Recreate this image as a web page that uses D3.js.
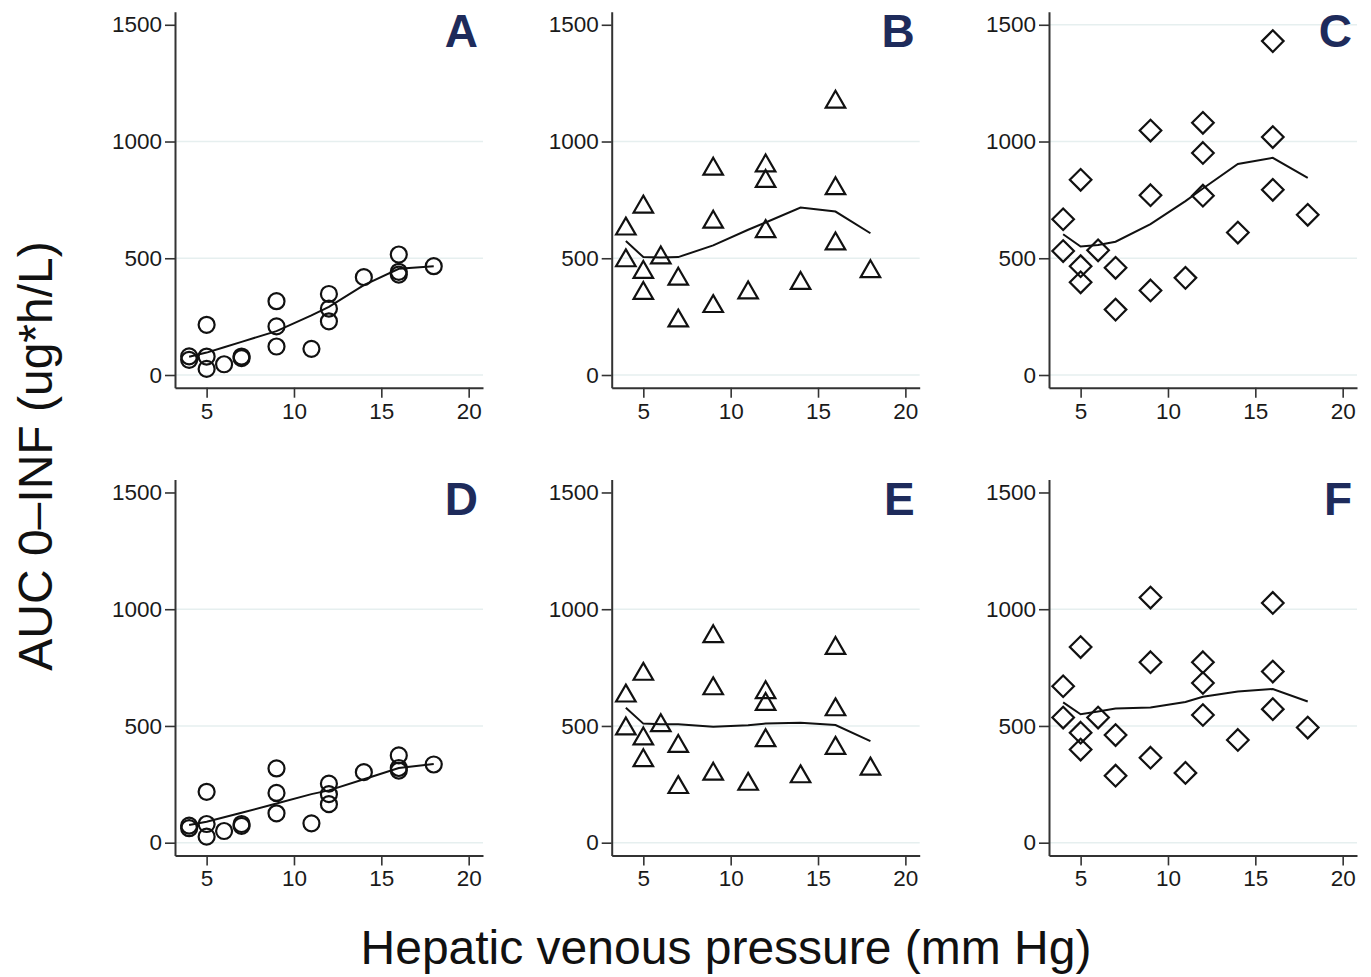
<!DOCTYPE html>
<html>
<head>
<meta charset="utf-8">
<script src="https://cdn.jsdelivr.net/npm/d3@7/dist/d3.min.js"></script>
<style>
  html, body { margin: 0; padding: 0; background: #ffffff; }
  svg { display: block; font-family: "Liberation Sans", Arial, Helvetica, sans-serif; }
</style>
</head>
<body>
<svg id="chart" width="1371" height="977"></svg>
<script>
// ---- Data ----
const hvp = [4,4,5,5,5,6,7,7,9,9,9,11,12,12,12,14,16,16,16,18];

const aucA = [80,65, 215,79,26, 46, 79,72, 316,208,122, 112, 347,284,230, 419, 516,442,430, 466];
const aucB = [638,502, 732,452,362, 514, 423,244, 894,667,306, 364, 908,842,627, 405, 1181,811,574, 455];
const aucC = [667,531, 836,466,397, 534, 459,280, 1047,770,362, 416, 1080,951,768, 610, 1430,1019,793, 686];
const aucD = [73,62, 218,80,26, 50, 80,72, 318,213,126, 83, 253,208,165, 302, 374,320,309, 335];
const aucE = [641,500, 734,457,364, 514, 425,249, 895,672,306, 263, 655,605,450, 295, 845,582,417, 328];
const aucF = [670,536, 838,471,399, 536, 461,287, 1050,773,364, 299, 773,684,547, 440, 1027,733,572, 493];

// lowess smoother fitted values
const fitX = [4,5,6,7,9,11,12,14,16,18];
const fitA = [78, 96, 119, 142, 188, 255, 292, 385, 455, 466];
const fitB = [574, 505, 503, 505, 555, 622, 653, 717, 700, 607];
const fitC = [603, 550, 557, 571, 646, 745, 799, 904, 930, 844];
const fitD = [76, 90, 109, 128, 168, 208, 224, 272, 320, 337];
const fitE = [578, 510, 507, 507, 497, 503, 510, 514, 504, 435];
const fitF = [601, 550, 562, 575, 579, 603, 625, 648, 658, 605];

const panelLetters = ["A","B","C","D","E","F"];
const panelMarkers = ["circle","triangle","diamond","circle","triangle","diamond"];
const xTicks = [5, 10, 15, 20];
const yTicks = [0, 500, 1000, 1500];
const xTitle = "Hepatic venous pressure (mm Hg)";
const yTitle = "AUC 0\u2013INF (ug*h/L)";

const panelY = [aucA, aucB, aucC, aucD, aucE, aucF];
const panelFit = [fitA, fitB, fitC, fitD, fitE, fitF];

// ---- Layout ----
const svg = d3.select("#chart");
const colLeft = [175, 611.7, 1049];
const rowTop = [11.7, 479.4];
const plotW = 308, plotH = 376;
const axisColor = "#333333";
const gridColor = "#e6efef";
const letterColor = "#1e2b5b";

const x = d3.scaleLinear().domain([3.19, 20.82]).range([0, plotW]);
const y = d3.scaleLinear().domain([-54.4, 1556]).range([plotH, 0]);

function markerPath(kind) {
  if (kind === "circle") {
    const r = 8;
    return `M${r},0A${r},${r} 0 1,1 ${-r},0A${r},${r} 0 1,1 ${r},0Z`;
  }
  if (kind === "triangle") {
    const s = 19.5, h = s * Math.sqrt(3) / 2;
    return `M0,${-h/2}L${s/2},${h/2}L${-s/2},${h/2}Z`;
  }
  const d = 10.8;
  return `M0,${-d}L${d},0L0,${d}L${-d},0Z`;
}

panelY.forEach((vals, i) => {
  const col = i % 3, row = Math.floor(i / 3);
  const g = svg.append("g").attr("transform", `translate(${colLeft[col]},${rowTop[row]})`);

  // gridlines
  const gridVals = (i === 2) ? [0, 500, 1000, 1500] : [0, 500, 1000];
  g.append("g").selectAll("line").data(gridVals).join("line")
    .attr("x1", 1).attr("x2", plotW)
    .attr("y1", d => y(d)).attr("y2", d => y(d))
    .attr("stroke", gridColor).attr("stroke-width", 1.6);

  // lowess line
  const line = d3.line().x(d => x(d[0])).y(d => y(d[1]));
  g.append("path")
    .datum(fitX.map((xv, k) => [xv, panelFit[i][k]]))
    .attr("d", line)
    .attr("fill", "none").attr("stroke", "#111").attr("stroke-width", 2);

  // markers
  g.append("g").selectAll("path").data(vals.map((v, k) => [hvp[k], v])).join("path")
    .attr("transform", d => `translate(${x(d[0])},${y(d[1])})`)
    .attr("d", markerPath(panelMarkers[i]))
    .attr("fill", "none").attr("stroke", "#111").attr("stroke-width", 2.2);

  // axes
  const fmt = d3.format("d");
  const yAxis = d3.axisLeft(y).tickValues(yTicks).tickFormat(fmt).tickSize(10).tickSizeOuter(0).tickPadding(3);
  const gy = g.append("g").call(yAxis);
  const xAxis = d3.axisBottom(x).tickValues(xTicks).tickFormat(fmt).tickSize(10).tickSizeOuter(0).tickPadding(5);
  const gx = g.append("g").attr("transform", `translate(0,${plotH})`).call(xAxis);
  [gy, gx].forEach(ax => {
    ax.select(".domain").attr("stroke", axisColor).attr("stroke-width", 2);
    ax.selectAll(".tick line").attr("stroke", axisColor).attr("stroke-width", 1.6);
    ax.selectAll(".tick text").attr("fill", "#1a1a1a")
      .style("font-size", "22.5px").style("font-family", "'Liberation Sans', Arial, sans-serif");
  });

  // panel letter
  g.append("text")
    .attr("x", plotW - 5).attr("y", 35.5)
    .attr("text-anchor", "end")
    .attr("fill", letterColor)
    .style("font-size", "46px").style("font-weight", "bold")
    .text(panelLetters[i]);
});

// axis titles
svg.append("text")
  .attr("x", 726).attr("y", 964)
  .attr("text-anchor", "middle")
  .attr("fill", "#111")
  .style("font-size", "48px")
  .text(xTitle);

svg.append("text")
  .attr("transform", "translate(52,456) rotate(-90)")
  .attr("text-anchor", "middle")
  .attr("fill", "#111")
  .style("font-size", "48px")
  .text(yTitle);
</script>
</body>
</html>
